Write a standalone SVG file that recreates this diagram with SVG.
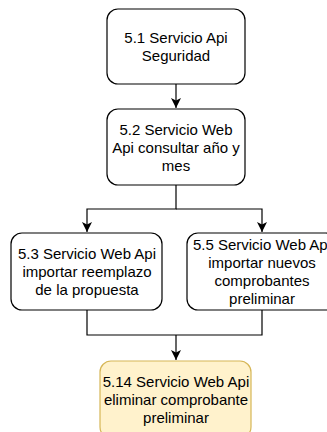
<svg xmlns="http://www.w3.org/2000/svg" width="327" height="432" viewBox="0 0 327 432">
<defs>
<style>
.box{fill:#ffffff;stroke:#000000;stroke-width:1.2}
.hl{fill:#fff2cc;stroke:#d6b656;stroke-width:1.2}
.t{font-family:"Liberation Sans",Arial,sans-serif;font-size:15px;fill:#000000;text-anchor:middle}
.c{fill:none;stroke:#000000;stroke-width:1.2}
</style>
<marker id="ah" viewBox="0 0 10 10" refX="10" refY="5" markerWidth="10" markerHeight="10" markerUnits="userSpaceOnUse" orient="auto">
<path d="M0,0 L10,5 L0,10 L2.5,5 Z" fill="#000000"/>
</marker>
</defs>
<rect width="327" height="432" fill="#ffffff"/>
<g id="connectors">
<path class="c" d="M176,84 V108" marker-end="url(#ah)"/>
<path class="c" d="M176,185 V209 H87 V232" marker-end="url(#ah)"/>
<path class="c" d="M176,209 H262 V232" marker-end="url(#ah)"/>
<path class="c" d="M87,310 V335 H262 V310"/>
<path class="c" d="M176,335 V360" marker-end="url(#ah)"/>
</g>
<g id="n1">
<rect class="box" x="107" y="9" width="138" height="75" rx="11"/>
<text class="t" x="176" y="43">5.1 Servicio Api</text>
<text class="t" x="176" y="61">Seguridad</text>
</g>
<g id="n2">
<rect class="box" x="107" y="109" width="138" height="76" rx="11"/>
<text class="t" x="176" y="135">5.2 Servicio Web</text>
<text class="t" x="176" y="153">Api consultar año y</text>
<text class="t" x="176" y="171">mes</text>
</g>
<g id="n3">
<rect class="box" x="11" y="233" width="151" height="77" rx="11"/>
<text class="t" x="87" y="259">5.3 Servicio Web Api</text>
<text class="t" x="87" y="277">importar reemplazo</text>
<text class="t" x="87" y="295">de la propuesta</text>
</g>
<g id="n4">
<rect class="box" x="187" y="233" width="150" height="77" rx="11"/>
<text class="t" x="262" y="250">5.5 Servicio Web Api</text>
<text class="t" x="262" y="268">importar nuevos</text>
<text class="t" x="262" y="286">comprobantes</text>
<text class="t" x="262" y="304">preliminar</text>
</g>
<g id="n5">
<rect class="hl" x="100" y="361" width="151" height="77" rx="11"/>
<text class="t" x="176" y="387">5.14 Servicio Web Api</text>
<text class="t" x="176" y="405">eliminar comprobante</text>
<text class="t" x="176" y="423">preliminar</text>
</g>
</svg>
